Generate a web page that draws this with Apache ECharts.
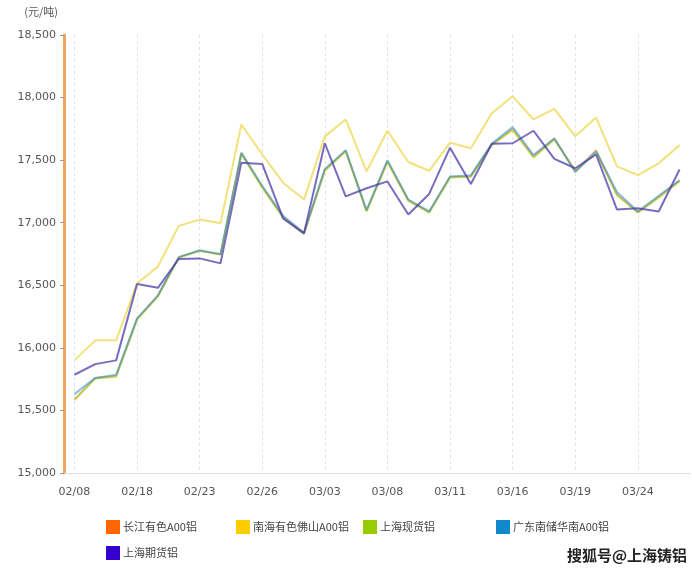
<!DOCTYPE html>
<html>
<head>
<meta charset="utf-8">
<script src="https://cdn.jsdelivr.net/npm/echarts@6/dist/echarts.min.js"></script>
<style>html,body{margin:0;padding:0;background:#fff}#el{width:692px;height:576px}</style>
</head>
<body>
<div id="el"></div>
<script>
const dates = ['02/08','02/09','02/10','02/18','02/19','02/22','02/23','02/24','02/25','02/26',
  '03/01','03/02','03/03','03/04','03/05','03/08','03/09','03/10','03/11','03/12',
  '03/15','03/16','03/17','03/18','03/19','03/22','03/23','03/24','03/25','03/26']
const names = ['长江有色A00铝','南海有色佛山A00铝','上海现货铝','广东南储华南A00铝','上海期货铝']
const colors = ['#ff6600','#ffcc00','#99cc00','#1188cc','#3300cc']
// the lines are drawn faded compared with the legend swatches
const lineColors = ['#ff6600','#f3e17a','#99cc00','#1188cc','#4a3ca8']
const lineOpacity = [0.45, 1, 0.5, 0.5, 0.75]
const changjiang = [15590,15760,15775,16230,16415,16725,16775,16745,17555,17285,17045,16915,17420,17575,17095,17490,17180,17085,17365,17370,17625,17750,17530,17670,17415,17580,17225,17085,17205,17335]
const nanhai = [15900,16060,16060,16515,16650,16975,17025,16995,17785,17545,17320,17185,17690,17825,17410,17735,17485,17415,17640,17595,17875,18010,17825,17910,17690,17840,17450,17380,17475,17620]
const shSpot = [15580,15755,15770,16225,16410,16720,16775,16745,17550,17280,17040,16910,17415,17570,17090,17485,17175,17080,17360,17370,17620,17740,17520,17665,17410,17560,17220,17080,17200,17330]
const guangdong = [15630,15760,15785,16235,16420,16725,16780,16750,17560,17295,17055,16920,17430,17580,17100,17500,17185,17090,17370,17380,17630,17765,17540,17675,17405,17570,17245,17090,17215,17340]
const shFutures = [15785,15870,15900,16510,16480,16710,16715,16675,17480,17470,17035,16915,17635,17210,17275,17330,17065,17230,17600,17310,17630,17635,17735,17510,17435,17545,17105,17115,17090,17425]
const seriesData = [changjiang, nanhai, shSpot, guangdong, shFutures]
const legendPos = [[106,520],[236,520],[363,520],[496,520],[106,546]]

const chart = echarts.init(document.getElementById('el'))
const font = 'DejaVu Sans, Verdana, sans-serif'
chart.setOption({
  animation: false,
  grid: { left: 64, right: 2, top: 35, bottom: 103 },
  legend: names.map((n, i) => ({
    data: [n], left: legendPos[i][0], top: legendPos[i][1], padding: 0,
    icon: 'rect', itemWidth: 14, itemHeight: 14, itemGap: 4,
    textStyle: { fontSize: 11, color: '#444', fontFamily: 'Noto Sans CJK SC, sans-serif', padding: [0, 0, 0, -2] }
  })),
  xAxis: {
    type: 'category',
    data: dates,
    boundaryGap: true,
    axisLine: { lineStyle: { color: '#ddd' } },
    axisTick: { show: false },
    axisLabel: { interval: 2, color: '#555', fontSize: 11, fontFamily: font, margin: 14 },
    splitLine: { show: true, interval: 2, alignWithLabel: true, lineStyle: { color: '#e2e2e2', type: [3, 3] } }
  },
  yAxis: {
    type: 'value', min: 15000, max: 18500, interval: 500,
    name: '(元/吨)',
    nameGap: 18,
    nameTextStyle: { align: 'right', color: '#555', fontSize: 11, fontFamily: 'Noto Sans CJK SC, sans-serif', padding: [0, 6, 0, 0] },
    axisLine: { show: true, lineStyle: { color: '#f2a35e', width: 3 } },
    axisTick: { show: true, length: 4, lineStyle: { color: '#999' } },
    axisLabel: { color: '#555', fontSize: 11, fontFamily: font, margin: 8,
      formatter: v => v.toLocaleString('en-US') },
    splitLine: { show: false }
  },
  series: names.map((n, i) => ({
    name: n, type: 'line', data: seriesData[i], symbol: 'none',
    itemStyle: { color: colors[i] },
    lineStyle: { width: 2, color: lineColors[i], opacity: lineOpacity[i] }
  })),
  graphic: [{
    type: 'text', right: 4, top: 547,
    style: { text: '搜狐号@上海铸铝', fill: '#222', stroke: '#fff', lineWidth: 2,
      font: 'bold 15px "Noto Sans CJK SC", sans-serif' }
  }]
})
</script>
</body>
</html>
